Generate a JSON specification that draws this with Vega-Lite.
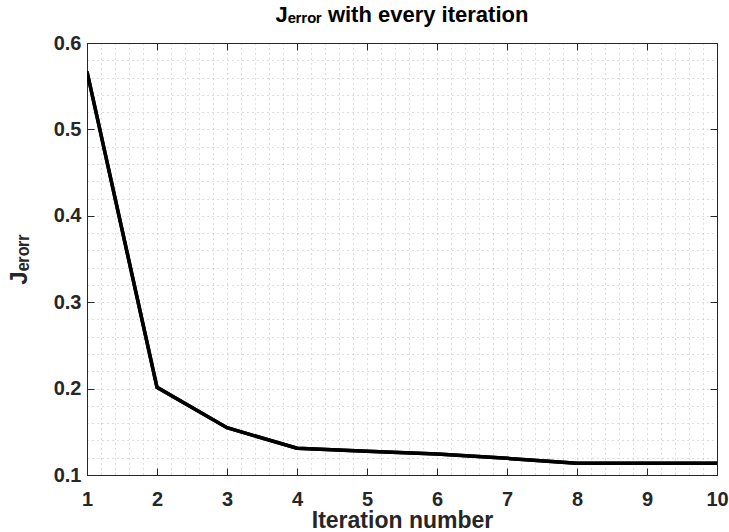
{
  "$schema": "https://vega.github.io/schema/vega-lite/v6.json",
  "width": 630,
  "height": 432,
  "autosize": {"type": "none"},
  "padding": {"left": 87, "top": 43, "right": 12, "bottom": 57},
  "background": "white",
  "config": {
    "font": "Liberation Sans",
    "view": {"stroke": "#262626", "strokeWidth": 1},
    "axis": {
      "domainColor": "#262626",
      "tickColor": "#262626",
      "labelColor": "#262626",
      "titleColor": "#262626",
      "labelFont": "Liberation Sans",
      "titleFont": "Liberation Sans",
      "labelFontWeight": "bold",
      "titleFontWeight": "bold",
      "labelFontSize": 20,
      "titleFontSize": 24
    }
  },
  "title": {
    "text": "Jₑᵣᵣₒᵣ with every iteration",
    "fontSize": 22,
    "fontWeight": "bold",
    "font": "Liberation Sans",
    "color": "#000000",
    "anchor": "middle",
    "baseline": "alphabetic",
    "offset": -11
  },
  "data": {
    "values": [
      {"iter": 1, "J": 0.567},
      {"iter": 2, "J": 0.2015},
      {"iter": 3, "J": 0.1547},
      {"iter": 4, "J": 0.131},
      {"iter": 5, "J": 0.1274},
      {"iter": 6, "J": 0.1243},
      {"iter": 7, "J": 0.1193},
      {"iter": 8, "J": 0.1135},
      {"iter": 9, "J": 0.1135},
      {"iter": 10, "J": 0.1135}
    ]
  },
  "layer": [
    {
      "mark": {"type": "line", "color": "#000000", "strokeWidth": 3.5, "clip": true},
      "encoding": {
        "x": {
          "field": "iter",
          "type": "quantitative",
          "scale": {"domain": [1, 10], "nice": false, "zero": false},
          "axis": {
            "orient": "bottom",
            "title": "Iteration number",
            "titleFontSize": 23,
            "titlePadding": 0,
            "values": [1,1.2,1.4,1.6,1.8,2,2.2,2.4,2.6,2.8,3,3.2,3.4,3.6,3.8,4,4.2,4.4,4.6,4.8,5,5.2,5.4,5.6,5.8,6,6.2,6.4,6.6,6.8,7,7.2,7.4,7.6,7.8,8,8.2,8.4,8.6,8.8,9,9.2,9.4,9.6,9.8,10],
            "labelExpr": "datum.value % 1 == 0 ? format(datum.value, 'd') : ''",
            "labelPadding": 21,
            "labelFlush": false,
            "labelOverlap": false,
            "tickSize": -7,
            "tickOpacity": {"condition": {"test": "datum.value % 1 != 0", "value": 0}, "value": 1},
            "grid": true,
            "gridColor": "#bdbdbd",
            "gridDash": [1, 4],
            "gridWidth": 1
          }
        },
        "y": {
          "field": "J",
          "type": "quantitative",
          "scale": {"domain": [0.1, 0.6], "nice": false, "zero": false},
          "axis": {
            "orient": "left",
            "title": "Jₑᵣₒᵣᵣ",
            "titlePadding": 22,
            "values": [0.1,0.12,0.14,0.16,0.18,0.2,0.22,0.24,0.26,0.28,0.3,0.32,0.34,0.36,0.38,0.4,0.42,0.44,0.46,0.48,0.5,0.52,0.54,0.56,0.58,0.6],
            "labelExpr": "abs(datum.value*10 - round(datum.value*10)) > 0.001 ? '' : format(datum.value, '.1f')",
            "labelPadding": 13,
            "labelFlush": false,
            "labelOverlap": false,
            "tickSize": -7,
            "tickOpacity": {"condition": {"test": "abs(datum.value*10 - round(datum.value*10)) > 0.001", "value": 0}, "value": 1},
            "grid": true,
            "gridColor": "#bdbdbd",
            "gridDash": [1, 4],
            "gridWidth": 1
          }
        }
      }
    },
    {
      "mark": {"type": "line", "color": "#000000", "strokeWidth": 3.5, "clip": true},
      "encoding": {
        "x": {
          "field": "iter",
          "type": "quantitative",
          "axis": {
            "orient": "top",
            "title": null,
            "labels": false,
            "values": [2,3,4,5,6,7,8,9],
            "tickSize": -7,
            "grid": false
          }
        },
        "y": {
          "field": "J",
          "type": "quantitative",
          "axis": {
            "orient": "right",
            "title": null,
            "labels": false,
            "values": [0.2,0.3,0.4,0.5],
            "tickSize": -7,
            "grid": false
          }
        }
      }
    }
  ],
  "resolve": {"axis": {"x": "independent", "y": "independent"}}
}
